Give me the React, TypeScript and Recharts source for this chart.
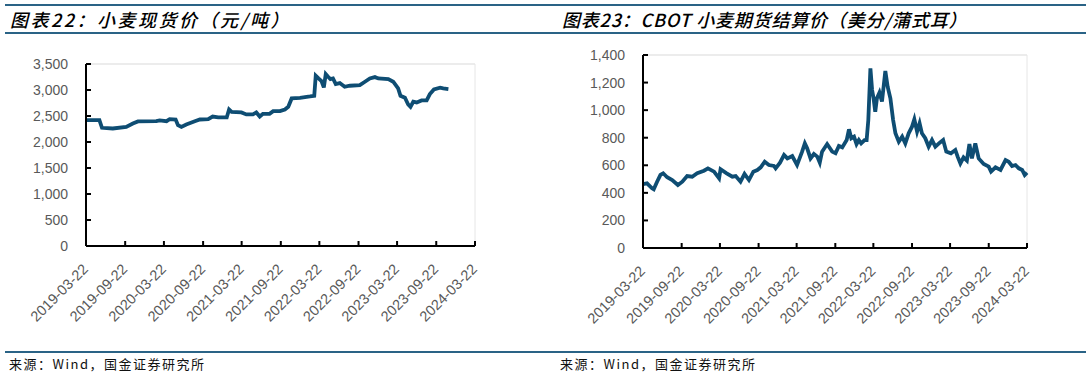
import React from 'react'
import { LineChart, Line, XAxis, YAxis, ReferenceLine } from 'recharts'

// 小麦现货价（元/吨）
const spotDates = [
  '2019-03-22', '2019-05-24', '2019-06-05', '2019-07-26', '2019-09-27', '2019-10-28', '2019-11-21',
  '2020-02-15', '2020-03-02', '2020-04-03', '2020-04-18', '2020-05-16', '2020-05-27', '2020-06-12',
  '2020-07-05', '2020-08-14', '2020-09-07', '2020-10-16', '2020-11-06', '2020-12-02', '2021-01-11',
  '2021-01-22', '2021-02-03', '2021-03-21', '2021-04-13', '2021-05-14', '2021-05-30', '2021-06-15',
  '2021-06-30', '2021-07-31', '2021-08-17', '2021-09-18', '2021-10-11', '2021-10-27', '2021-11-12',
  '2021-12-21', '2022-02-06', '2022-02-26', '2022-03-05', '2022-03-18', '2022-04-01', '2022-04-12',
  '2022-04-21', '2022-05-02', '2022-05-13', '2022-05-25', '2022-06-07', '2022-06-26', '2022-07-19',
  '2022-08-12', '2022-09-28', '2022-10-22', '2022-11-14', '2022-12-08', '2022-12-24', '2023-02-09',
  '2023-03-04', '2023-03-27', '2023-04-07', '2023-04-28', '2023-05-13', '2023-05-24', '2023-06-06',
  '2023-06-22', '2023-07-15', '2023-08-08', '2023-08-23', '2023-09-11', '2023-10-10', '2023-10-25',
  '2023-11-18',
]
const spotValues = [
  2420, 2420, 2273, 2260, 2290, 2356, 2395,
  2400, 2414, 2400, 2440, 2433, 2324, 2290,
  2337, 2400, 2433, 2440, 2490, 2472, 2472,
  2626, 2580, 2568, 2530, 2530, 2568, 2490,
  2542, 2542, 2594, 2594, 2626, 2677, 2838,
  2850, 2876, 2889, 3274, 3223, 3172, 3050,
  3306, 3255, 3210, 3223, 3114, 3133, 3062,
  3082, 3094, 3159, 3223, 3248, 3223, 3210,
  3159, 3030, 2889, 2850, 2722, 2677, 2774,
  2761, 2800, 2800, 2921, 3011, 3043, 3030,
  3017,
]

// CBOT 小麦期货结算价（美分/蒲式耳）
const cbotDates = [
  '2019-03-22', '2019-04-10', '2019-05-04', '2019-05-12', '2019-05-28', '2019-06-13', '2019-06-26',
  '2019-07-15', '2019-08-08', '2019-09-04', '2019-09-25', '2019-10-18', '2019-11-11', '2019-12-05',
  '2020-01-06', '2020-01-25', '2020-02-23', '2020-03-18', '2020-03-25', '2020-04-23', '2020-05-20',
  '2020-06-05', '2020-06-28', '2020-07-17', '2020-08-07', '2020-08-28', '2020-09-16', '2020-10-02',
  '2020-10-21', '2020-11-10', '2020-12-04', '2020-12-12', '2021-01-02', '2021-01-21', '2021-02-06',
  '2021-03-01', '2021-03-24', '2021-04-17', '2021-04-30', '2021-05-11', '2021-05-27', '2021-06-12',
  '2021-06-28', '2021-07-10', '2021-07-21', '2021-08-14', '2021-09-07', '2021-09-23', '2021-10-09',
  '2021-10-25', '2021-11-15', '2021-11-26', '2021-12-07', '2021-12-20', '2022-01-01', '2022-01-12',
  '2022-01-23', '2022-02-08', '2022-02-18', '2022-02-26', '2022-03-08', '2022-03-16', '2022-03-23',
  '2022-03-31', '2022-04-08', '2022-04-20', '2022-05-02', '2022-05-18', '2022-05-29', '2022-06-11',
  '2022-06-24', '2022-07-05', '2022-07-21', '2022-08-06', '2022-08-21', '2022-09-06', '2022-09-22',
  '2022-10-03', '2022-10-16', '2022-10-28', '2022-11-08', '2022-11-24', '2022-12-10', '2022-12-26',
  '2023-01-11', '2023-02-01', '2023-02-17', '2023-03-04', '2023-03-26', '2023-04-16', '2023-04-27',
  '2023-05-10', '2023-05-25', '2023-06-10', '2023-06-22', '2023-07-04', '2023-07-20', '2023-08-05',
  '2023-08-29', '2023-09-22', '2023-10-03', '2023-10-24', '2023-11-17', '2023-12-11', '2023-12-26',
  '2024-01-11', '2024-01-27', '2024-02-12', '2024-02-28', '2024-03-11', '2024-03-22',
]
const cbotValues = [
  464, 469, 433, 426, 481, 530, 542,
  513, 493, 457, 481, 522, 517, 542,
  561, 578, 554, 505, 571, 542, 517,
  522, 481, 537, 493, 554, 566, 585,
  626, 602, 595, 578, 619, 675, 650,
  667, 602, 699, 759, 723, 650, 682,
  663, 619, 699, 754, 699, 687, 740,
  730, 783, 861, 796, 808, 754, 783,
  759, 783, 783, 928, 1303, 1146, 1086,
  989, 1086, 1127, 1062, 1284, 1170, 1086,
  928, 832, 771, 808, 759, 832, 880,
  933, 844, 904, 832, 796, 735, 783,
  735, 764, 783, 699, 687, 711, 663,
  614, 658, 634, 754, 650, 759, 650,
  609, 590, 554, 585, 566, 638, 626,
  595, 602, 578, 566, 530, 547,
]

const tickLabels = [
  '2019-03-22', '2019-09-22', '2020-03-22', '2020-09-22', '2021-03-22', '2021-09-22',
  '2022-03-22', '2022-09-22', '2023-03-22', '2023-09-22', '2024-03-22',
]
const spotTicks = [0, 500, 1000, 1500, 2000, 2500, 3000, 3500]
const cbotTicks = [0, 200, 400, 600, 800, 1000, 1200, 1400]

const LINE = '#0e4d73'
const RULE = '#2a6386'
const AXIS_FONT = '"Liberation Sans", Arial, sans-serif'
const CJK_FONT = '"Noto Sans CJK SC", "Noto Sans", sans-serif'

const toTime = (d: string) => Date.parse(d)
const tickTimes = tickLabels.map(toTime)
const domainX: [number, number] = [tickTimes[0], tickTimes[tickTimes.length - 1]]

const spotData = spotDates.map((d, i) => ({ t: toTime(d), v: spotValues[i] }))
const cbotData = cbotDates.map((d, i) => ({ t: toTime(d), v: cbotValues[i] }))

function YTick(props: any) {
  const { x, y, payload } = props
  return (
    <g>
      <line x1={x} x2={x + 5} y1={y} y2={y} stroke="#000" strokeWidth={2} />
      <text x={x - 18} y={y} dy={5} textAnchor="end" fill="#595959" fontSize={14} fontFamily={AXIS_FONT}>
        {Number(payload.value).toLocaleString('en-US')}
      </text>
    </g>
  )
}

function XTick(props: any) {
  const { x, y, payload } = props
  const label = tickLabels[tickTimes.indexOf(payload.value)] ?? ''
  const tx = x + 3
  const ty = y + 24
  return (
    <g>
      <line x1={x} x2={x} y1={y} y2={y - 5} stroke="#000" strokeWidth={2} />
      <text
        x={tx}
        y={ty}
        textAnchor="end"
        fill="#595959"
        fontSize={14.5}
        fontFamily={AXIS_FONT}
        transform={`rotate(-45, ${tx}, ${ty})`}
      >
        {label}
      </text>
    </g>
  )
}

interface PanelProps {
  left: number
  width: number
  title: string
  titleSpacing: number
  data: { t: number; v: number }[]
  yTicks: number[]
  margin: { top: number; right: number; bottom: number; left: number }
}

function Panel({ left, width, title, titleSpacing, data, yTicks, margin }: PanelProps) {
  const yMax = yTicks[yTicks.length - 1]
  return (
    <div style={{ position: 'absolute', left, top: 0, width, height: 375 }}>
      <div
        style={{
          position: 'absolute',
          left: left === 0 ? 10 : 22,
          top: 6,
          fontFamily: CJK_FONT,
          fontStyle: 'italic',
          fontWeight: 500,
          fontSize: 18,
          letterSpacing: titleSpacing,
          color: '#000',
          whiteSpace: 'nowrap',
          lineHeight: '26px',
        }}
      >
        {title}
      </div>
      <div
        style={{
          position: 'absolute',
          left: left === 0 ? 9 : 20,
          top: 355,
          fontFamily: CJK_FONT,
          fontSize: 13,
          letterSpacing: 1.5,
          color: '#111',
          whiteSpace: 'nowrap',
          lineHeight: '18px',
        }}
      >
        来源：Wind，国金证券研究所
      </div>
      <div style={{ position: 'absolute', left: 0, top: 0 }}>
        <LineChart width={width} height={340} data={data} margin={margin}>
          <ReferenceLine y={yMax} stroke="#d9d9d9" strokeWidth={1} />
          <ReferenceLine x={domainX[1]} stroke="#e6e6e6" strokeWidth={1} />
          <XAxis
            dataKey="t"
            type="number"
            domain={domainX}
            ticks={tickTimes}
            interval={0}
            height={80}
            tickSize={0}
            tickMargin={0}
            tick={<XTick />}
            axisLine={{ stroke: '#000', strokeWidth: 2 }}
            tickLine={false}
          />
          <YAxis
            type="number"
            domain={[0, yMax]}
            ticks={yTicks}
            interval={0}
            width={60}
            tickSize={0}
            tickMargin={0}
            tick={<YTick />}
            axisLine={{ stroke: '#000', strokeWidth: 2 }}
            tickLine={false}
          />
          <Line
            dataKey="v"
            type="linear"
            stroke={LINE}
            strokeWidth={3.8}
            dot={false}
            isAnimationActive={false}
          />
        </LineChart>
      </div>
    </div>
  )
}

export default function App() {
  return (
    <div style={{ position: 'absolute', left: 0, top: 0, width: 1086, height: 375, background: '#fff', overflow: 'hidden' }}>
      <div style={{ position: 'absolute', left: 5, top: 4, width: 1081, height: 2, background: RULE }} />
      <div style={{ position: 'absolute', left: 5, top: 32, width: 1081, height: 2, background: RULE }} />
      <div style={{ position: 'absolute', left: 5, top: 351, width: 1081, height: 2, background: RULE }} />
      <Panel
        left={0}
        width={540}
        title="图表22：小麦现货价（元/吨）"
        titleSpacing={2.5}
        data={spotData}
        yTicks={spotTicks}
        margin={{ top: 64, right: 65, bottom: 14, left: 26 }}
      />
      <Panel
        left={540}
        width={546}
        title="图表23：CBOT 小麦期货结算价（美分/蒲式耳）"
        titleSpacing={0.8}
        data={cbotData}
        yTicks={cbotTicks}
        margin={{ top: 55, right: 59, bottom: 12, left: 43 }}
      />
    </div>
  )
}
